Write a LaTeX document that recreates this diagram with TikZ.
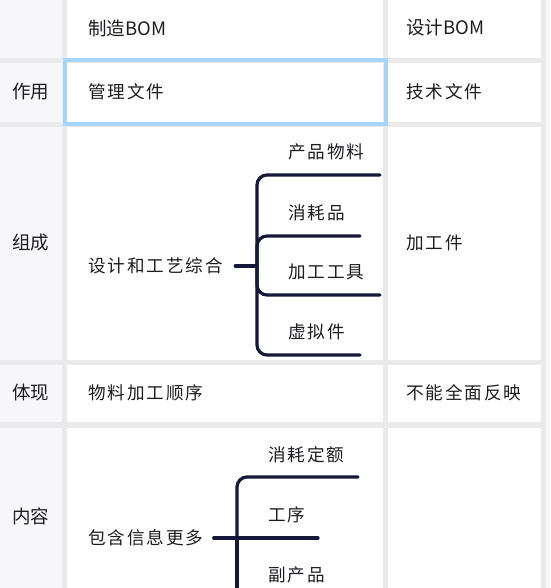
\documentclass[tikz,border=0pt]{standalone}
\usepackage{fontspec}
\setmainfont{Noto Sans CJK SC}
\newfontfamily\spaced{Noto Sans CJK SC}[LetterSpace=11]
\definecolor{gridgray}{HTML}{EAEAED}
\definecolor{headgray}{HTML}{F7F7F9}
\definecolor{hiblue}{HTML}{A5D5F8}
\definecolor{inkblue}{HTML}{16183A}
\definecolor{txtgray}{HTML}{1E1E22}
\begin{document}
\begin{tikzpicture}[x=1pt,y=-1pt,
  txt/.style={anchor=west,inner sep=0pt,text=txtgray,font=\spaced\fontsize{17.6}{20}\selectfont},
  head/.style={anchor=west,inner sep=0pt,text=txtgray,font=\fontsize{18.5}{20}\selectfont},
  branch/.style={draw=inkblue,line width=3.2pt,line cap=round,rounded corners=10pt}]
\clip (0,0) rectangle (550,588);
%
\fill[gridgray] (0,0) rectangle (550,588);
\foreach \ya/\yb in {0/58, 63/122, 127/360, 365/422, 428/588} {
  \fill[headgray] (0,\ya) rectangle (62,\yb);
  \fill[white] (67,\ya) rectangle (383,\yb);
  \fill[white] (388,\ya) rectangle (541,\yb);
}
\fill[headgray] (546,0) rectangle (550,588);
\draw[hiblue,line width=4pt] (65,60.5) rectangle (385.5,124.5);
%
\node[head] (h1) at (88,28) {制造BOM};
\node[head] (h2) at (406,28) {设计BOM};
%
\node[head] (r1) at (12,92) {作用};
\node[txt] (r1a) at (88,92) {管理文件};
\node[txt] (r1b) at (406,92) {技术文件};
%
\node[head] (r2) at (12,243) {组成};
\node[txt] (r2a) at (88,266) {设计和工艺综合};
\node[txt] (r2b) at (406,243) {加工件};
%
\node[head] (r3) at (12,393) {体现};
\node[txt] (r3a) at (88,393) {物料加工顺序};
\node[txt] (r3b) at (406,393) {不能全面反映};
%
\node[head] (r4) at (12,516) {内容};
\node[txt] (r4a) at (88,538) {包含信息更多};
%
%
%
\node[txt] (p1) at (288,152) {产品物料};
\node[txt] (p2) at (288,213) {消耗品};
\node[txt] (p3) at (288,272) {加工工具};
\node[txt] (p4) at (288,332) {虚拟件};
%
\coordinate (pj) at (257,266);
\coordinate (pe1) at (380,175);
\coordinate (pe2) at (360,236);
\coordinate (pe3) at (380,295);
\coordinate (pe4) at (360,355);
%
\draw[branch,shorten <=12pt] (r2a.east) -- (pj);
\draw[branch] (pj) |- (pe1);
\draw[branch] (pj) |- (pe2);
\draw[branch] (pj) |- (pe3);
\draw[branch] (pj) |- (pe4);
%
%
%
\node[txt] (q1) at (268,455) {消耗定额};
\node[txt] (q2) at (268,515) {工序};
\node[txt] (q3) at (268,575) {副产品};
%
\coordinate (qj) at (237,538);
\coordinate (qe1) at (358,477);
\coordinate (qe2) at (318,538);
\coordinate (qe3) at (237,600);
%
\draw[branch,shorten <=10pt] (r4a.east) -- (qe2);
\draw[branch] (qj) |- (qe1);
\draw[branch] (qj) -- (qe3);
\end{tikzpicture}
\end{document}
